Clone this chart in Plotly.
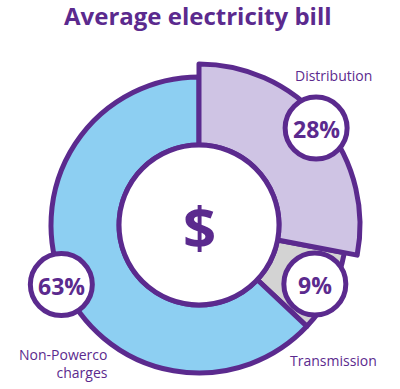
import math
import plotly.graph_objects as go

# ---- data ----
categories = ["Distribution", "Transmission", "Non-Powerco charges"]
values = [28, 9, 63]
badge_text = ["28%", "9%", "63%"]
label_text = ["Distribution", "Transmission", "Non-Powerco<br>charges"]
title_text = "Average electricity bill"

# ---- style ----
W, H = 400, 389
PURPLE = "#5b2a8e"
colors = ["#cfc4e4", "#d3d3d3", "#8dcff2"]
CX, CY = 199, 225          # donut centre (px)
R_MAIN, R_BIG, R_IN = 148, 161, 80
LW = 5

def px(x):
    return x / W

def py(y):
    return 1 - y / H

def domain(r):
    return dict(x=[px(CX - r), px(CX + r)], y=[py(CY + r), py(CY - r)])

fig = go.Figure()
# main ring
fig.add_trace(go.Pie(
    labels=categories, values=values, sort=False, direction="clockwise",
    rotation=0, hole=R_IN / R_MAIN, domain=domain(R_MAIN),
    marker=dict(colors=colors, line=dict(color=PURPLE, width=LW)),
    textinfo="none", hoverinfo="label+percent", showlegend=False,
))
# enlarged highlighted slice (Distribution)
fig.add_trace(go.Pie(
    labels=categories, values=values, sort=False, direction="clockwise",
    rotation=0, hole=R_IN / R_BIG, domain=domain(R_BIG),
    marker=dict(colors=[colors[0], "rgba(0,0,0,0)", "rgba(0,0,0,0)"],
                line=dict(color=PURPLE, width=[LW, 0, 0])),
    textinfo="none", hoverinfo="skip", showlegend=False,
))

shapes = []
annotations = []

# centre circle with $
shapes.append(dict(type="circle", xref="paper", yref="paper", layer="above",
                   x0=px(CX - R_IN), x1=px(CX + R_IN),
                   y0=py(CY + R_IN), y1=py(CY - R_IN),
                   fillcolor="white", line=dict(color=PURPLE, width=LW)))
annotations.append(dict(text="<b>$</b>", x=px(CX), y=py(CY + 1), xref="paper", yref="paper",
                        showarrow=False, font=dict(family="Open Sans", size=58, color=PURPLE),
                        xanchor="center", yanchor="middle"))

# badges at slice midpoints
badge_r = [152, 130, 150]
BR = 31
total = sum(values)
cum = 0
for v, t, rr in zip(values, badge_text, badge_r):
    mid = (cum + v / 2) / total * 2 * math.pi
    cum += v
    bx = CX + rr * math.sin(mid)
    by = CY - rr * math.cos(mid)
    shapes.append(dict(type="circle", xref="paper", yref="paper", layer="above",
                       x0=px(bx - BR), x1=px(bx + BR), y0=py(by + BR), y1=py(by - BR),
                       fillcolor="white", line=dict(color=PURPLE, width=LW)))
    annotations.append(dict(text="<b>%s</b>" % t, x=px(bx), y=py(by + 1),
                            xref="paper", yref="paper", showarrow=False,
                            font=dict(family="Open Sans", size=23, color=PURPLE),
                            xanchor="center", yanchor="middle"))

# category labels
label_pos = [(333, 76, "center"), (333, 360, "center"), (110, 363, "right")]
for t, (lx, ly, al) in zip(label_text, label_pos):
    annotations.append(dict(text=t, x=px(lx), y=py(ly), xref="paper", yref="paper",
                            showarrow=False, align=al,
                            xanchor=al if al != "center" else "center", yanchor="middle",
                            font=dict(family="Open Sans", size=14, color=PURPLE)))

# title
annotations.append(dict(text="<b>%s</b>" % title_text, x=px(198), y=py(15),
                        xref="paper", yref="paper", showarrow=False,
                        xanchor="center", yanchor="middle",
                        font=dict(family="Open Sans", size=24, color=PURPLE)))

fig.update_layout(width=W, height=H, margin=dict(l=0, r=0, t=0, b=0),
                  paper_bgcolor="white", plot_bgcolor="white",
                  shapes=shapes, annotations=annotations)
fig.write_html("out.html", config={"displayModeBar": False},
               post_script="document.body.style.margin='0';")
